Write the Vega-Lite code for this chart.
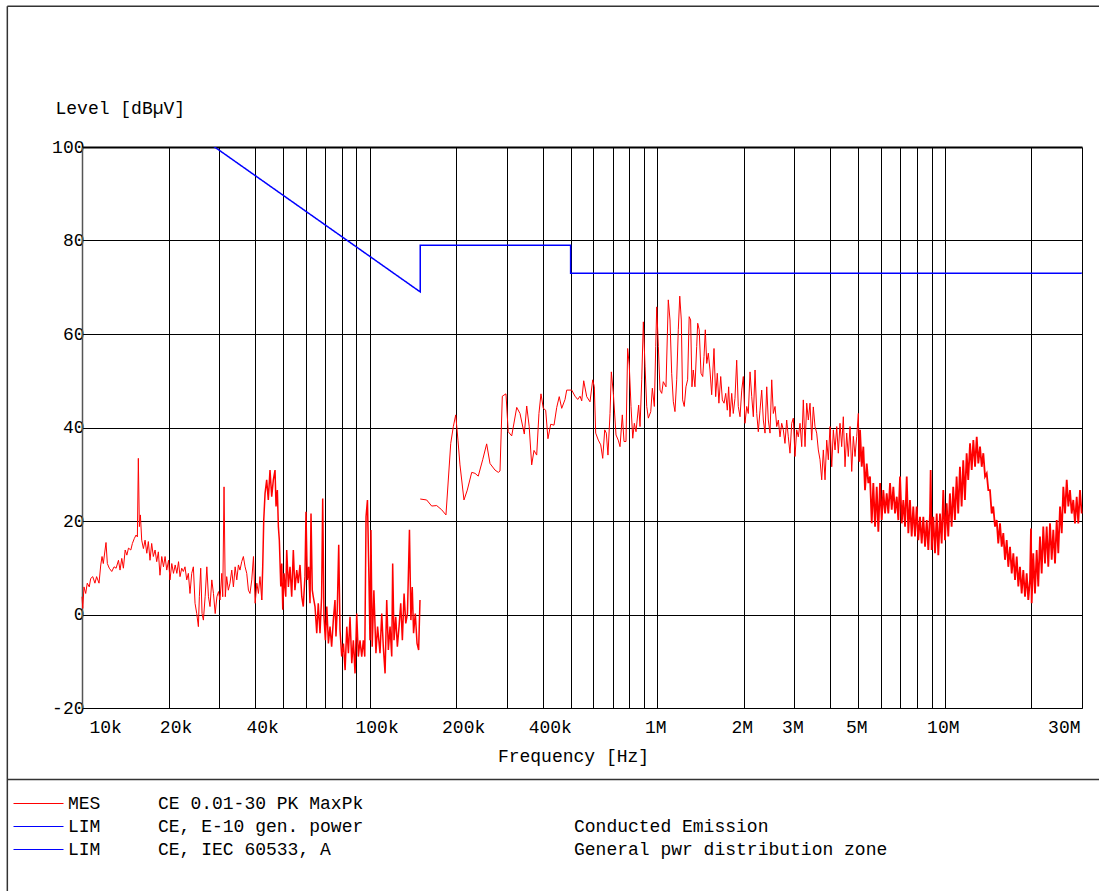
{
"$schema": "https://vega.github.io/schema/vega-lite/v6.json",
"width": 1000, "height": 561,
"autosize": "none",
"padding": {"left": 82, "top": 147, "right": 17, "bottom": 183},
"background": "white",
"datasets": {
"frame": [
{"f":5.5,"f2":50000,"v":130.1,"v2":130.1},
{"f":5.5,"f2":5.5,"v":130.1,"v2":-70},
{"f":5.5,"f2":50000,"v":-35.3,"v2":-35.3}
],
"lim": [
{"f":10,"v":120},{"f":150,"v":69},{"f":150,"v":79},{"f":500,"v":79},{"f":500,"v":73},{"f":30000,"v":73}
],
"mes1a": [
{"f":10.0,"v":3.8},{"f":10.06,"v":1.3},{"f":10.16,"v":5.9},{"f":10.30,"v":4.5},{"f":10.43,"v":6.7},{"f":10.60,"v":5.9},{"f":10.72,"v":7.7},{"f":10.90,"v":8.1},{"f":11.09,"v":6.7},{"f":11.24,"v":8.1},{"f":11.46,"v":6.7},{"f":11.62,"v":10.6},{"f":11.74,"v":12.4},{"f":11.86,"v":10.9},{"f":12.12,"v":15.4},{"f":12.25,"v":10.9},{"f":12.44,"v":9.9},{"f":12.69,"v":9.2},{"f":12.93,"v":10.2},{"f":13.14,"v":9.9},{"f":13.39,"v":11.6},{"f":13.56,"v":9.5},{"f":13.75,"v":12.0},{"f":13.93,"v":9.9},{"f":14.13,"v":13.8},{"f":14.32,"v":12.7},{"f":14.51,"v":14.2},{"f":14.78,"v":13.8},{"f":14.97,"v":15.2},{"f":15.21,"v":16.3},{"f":15.42,"v":17.0},{"f":15.58,"v":16.6},{"f":15.70,"v":33.4},{"f":15.83,"v":18.8},{"f":15.96,"v":21.3},{"f":16.13,"v":15.9},{"f":16.35,"v":14.1},{"f":16.57,"v":15.9},{"f":16.80,"v":13.1},{"f":17.01,"v":15.6},{"f":17.24,"v":11.6},{"f":17.47,"v":15.2},{"f":17.70,"v":12.4},{"f":17.95,"v":13.8},{"f":18.19,"v":11.3},{"f":18.43,"v":13.4},{"f":18.67,"v":8.4},{"f":18.94,"v":12.4},{"f":19.20,"v":10.2},{"f":19.45,"v":12.4},{"f":19.71,"v":9.5},{"f":20.0,"v":11.6},{"f":20.23,"v":7.4},{"f":20.52,"v":10.9},{"f":20.80,"v":8.8},{"f":21.09,"v":10.6},{"f":21.37,"v":8.8},{"f":21.66,"v":11.3},{"f":21.92,"v":8.1},{"f":22.22,"v":9.9},{"f":22.51,"v":9.2},{"f":22.81,"v":10.2},{"f":23.13,"v":7.4},{"f":23.43,"v":8.8},{"f":23.74,"v":4.5},{"f":24.07,"v":8.8},{"f":24.39,"v":10.2},{"f":24.72,"v":2.4},{"f":25.06,"v":0.2},{"f":25.39,"v":-2.6},{"f":25.59,"v":3.8},{"f":25.87,"v":9.9},{"f":26.15,"v":0.2},{"f":26.43,"v":-1.2},{"f":26.80,"v":3.8},{"f":27.17,"v":10.2},{"f":27.52,"v":3.8},{"f":27.87,"v":1.7},{"f":28.27,"v":7.4},{"f":28.65,"v":4.5},{"f":29.05,"v":0.2},{"f":29.45,"v":3.8},{"f":29.84,"v":4.9},{"f":30.19,"v":3.1},{"f":30.62,"v":8.8},{"f":30.86,"v":3.8},{"f":31.18,"v":27.3},{"f":31.50,"v":3.8},{"f":31.85,"v":8.1},{"f":32.27,"v":5.2},{"f":32.70,"v":6.7},{"f":33.17,"v":9.5},{"f":33.61,"v":5.9},{"f":34.08,"v":10.2},{"f":34.53,"v":7.4},{"f":34.99,"v":10.6},{"f":35.43,"v":9.5},{"f":35.92,"v":11.3},{"f":36.40,"v":12.4},{"f":36.90,"v":10.2},{"f":37.40,"v":8.8},{"f":37.90,"v":5.2},{"f":38.38,"v":4.5},{"f":38.93,"v":7.4},{"f":39.47,"v":12.4},{"f":40.0,"v":2.4},{"f":40.55,"v":6.7},{"f":41.06,"v":4.5},{"f":41.58,"v":8.1},{"f":42.17,"v":3.1}
],
"mes1b": [
{"f":42.17,"v":3.1},{"f":42.50,"v":10.2},{"f":42.85,"v":20.2},{"f":43.30,"v":25.9},{"f":43.87,"v":28.8},{"f":44.44,"v":24.5},{"f":45.05,"v":30.9},{"f":45.67,"v":25.2},{"f":46.27,"v":28.8},{"f":46.90,"v":30.9},{"f":47.28,"v":23.1},{"f":47.78,"v":26.6},{"f":48.17,"v":18.8},{"f":48.55,"v":15.9},{"f":49.11,"v":6.0},{"f":49.50,"v":10.9},{"f":49.90,"v":1.0},{"f":50.42,"v":8.8},{"f":51.1,"v":3.8},{"f":51.5,"v":13.8},{"f":52.2,"v":5.9},{"f":52.88,"v":10.2},{"f":53.6,"v":3.8},{"f":54.3,"v":13.8},{"f":55.0,"v":5.2},{"f":55.8,"v":9.5},{"f":56.5,"v":6.7},{"f":57.28,"v":10.6},{"f":58.1,"v":3.8},{"f":58.8,"v":1.7},{"f":59.6,"v":8.1},{"f":60.1,"v":22.0},{"f":60.7,"v":7.4},{"f":61.4,"v":10.2},{"f":62.06,"v":2.4},{"f":62.56,"v":21.6},{"f":63.2,"v":5.2},{"f":63.7,"v":3.8},{"f":64.6,"v":1.7},{"f":65.5,"v":-4.0},{"f":66.3,"v":2.4},{"f":67.23,"v":-4.0},{"f":68.1,"v":3.8},{"f":68.7,"v":24.8},{"f":69.4,"v":-0.5},{"f":70.2,"v":-5.5},{"f":71.0,"v":1.7},{"f":71.9,"v":-6.2},{"f":72.84,"v":-2.6},{"f":73.8,"v":-6.9},{"f":74.8,"v":-1.2},{"f":75.8,"v":3.1},{"f":76.4,"v":-4.7},{"f":77.2,"v":1.0},{"f":78.1,"v":14.9},{"f":78.91,"v":-3.3},{"f":80.0,"v":-9.0},{"f":81.1,"v":-6.2},{"f":82.2,"v":-11.9},{"f":83.3,"v":-2.6},{"f":84.4,"v":-8.3},{"f":85.49,"v":-0.5},{"f":86.7,"v":-10.4},{"f":87.8,"v":-5.5},{"f":89.0,"v":-12.6},{"f":90.2,"v":0.2},{"f":91.4,"v":-9.0},{"f":92.61,"v":-5.5},{"f":93.9,"v":-9.0},{"f":95.1,"v":-5.5},{"f":96.2,"v":-9.0},{"f":97.2,"v":20.9},{"f":98.3,"v":24.5},{"f":99.4,"v":8.8},{"f":100.3,"v":-5.5},{"f":101.1,"v":18.1},{"f":102.1,"v":-6.9},{"f":103.5,"v":5.2},{"f":105.2,"v":-8.3},{"f":106.6,"v":-2.6},{"f":108.7,"v":-8.3},{"f":110.2,"v":0.2},{"f":111.6,"v":-6.9},{"f":113.2,"v":-12.6},{"f":114.7,"v":3.1},{"f":116.2,"v":-7.6},{"f":117.8,"v":-2.6},{"f":119.4,"v":-9.0},{"f":120.3,"v":10.9},{"f":121.6,"v":-5.5},{"f":123.3,"v":-0.5},{"f":124.9,"v":-6.9},{"f":126.6,"v":-2.6},{"f":128.3,"v":2.4},{"f":130.0,"v":-5.5},{"f":131.8,"v":4.5},{"f":133.6,"v":-1.9},{"f":135.4,"v":0.2},{"f":137.6,"v":18.1},{"f":139.2,"v":-1.2},{"f":140.7,"v":5.9},{"f":142.2,"v":-4.0},{"f":144.2,"v":0.2},{"f":146.2,"v":-6.2},{"f":148.1,"v":-7.6},{"f":149.7,"v":3.1}
],
"mes2": [
{"f":150.0,"v":24.7},{"f":157.9,"v":24.5},{"f":164.4,"v":23.2},{"f":171.1,"v":23.3},{"f":178.1,"v":22.4},{"f":184.3,"v":21.3},{"f":191.5,"v":36.6},{"f":195.5,"v":40.2},{"f":199.3,"v":42.7},{"f":202.9,"v":37.3},{"f":206.2,"v":32.0},{"f":212.9,"v":24.5},{"f":218.6,"v":26.6},{"f":226.5,"v":30.4},{"f":232.5,"v":30.2},{"f":238.7,"v":29.6},{"f":247.3,"v":33.1},{"f":255.3,"v":36.5},{"f":262.2,"v":32.3},{"f":272.9,"v":30.9},{"f":280.2,"v":30.4},{"f":284.1,"v":30.7},{"f":289.4,"v":46.7},{"f":298.0,"v":47.2},{"f":303.4,"v":39.1},{"f":312.0,"v":38.2},{"f":324.8,"v":44.3},{"f":333.4,"v":43.0},{"f":345.1,"v":38.6},{"f":351.8,"v":44.6},{"f":358.9,"v":40.2},{"f":366.1,"v":32.0},{"f":373.0,"v":35.1},{"f":381.1,"v":34.1},{"f":388.0,"v":43.0},{"f":394.4,"v":47.2},{"f":401.8,"v":44.1},{"f":409.5,"v":43.7},{"f":417.0,"v":37.6},{"f":426.4,"v":40.7},{"f":437.8,"v":40.5},{"f":447.4,"v":44.3},{"f":456.5,"v":46.6},{"f":465.6,"v":44.1},{"f":478.1,"v":46.0},{"f":484.6,"v":48.0},{"f":504.4,"v":48.0},{"f":518.0,"v":46.7},{"f":529.2,"v":46.0},{"f":539.1,"v":46.7},{"f":546.5,"v":45.7},{"f":555.3,"v":50.0},{"f":568.8,"v":46.6},{"f":584.0,"v":45.5},{"f":596.8,"v":50.2},{"f":604.4,"v":48.7},{"f":611.2,"v":38.8},{"f":624.1,"v":37.3},{"f":636.3,"v":36.3},{"f":646.6,"v":33.4},{"f":657.0,"v":39.5},{"f":665.5,"v":38.8},{"f":674.3,"v":34.1},{"f":685.5,"v":43.0},{"f":692.7,"v":51.9},{"f":703.9,"v":47.3},{"f":719.1,"v":38.4},{"f":732.1,"v":37.3},{"f":742.6,"v":35.9},{"f":756.4,"v":42.7},{"f":766.8,"v":37.0},{"f":779.0,"v":37.0},{"f":789.4,"v":56.9},{"f":799.5,"v":53.4},{"f":811.0,"v":44.5},{"f":822.2,"v":37.7},{"f":832.8,"v":40.9},{"f":844.0,"v":39.1},{"f":862.2,"v":44.8},{"f":871.7,"v":40.2},{"f":883.6,"v":50.2},{"f":895.1,"v":62.6},{"f":907.4,"v":53.0},{"f":919.7,"v":44.5},{"f":931.6,"v":42.0},{"f":949.8,"v":43.4},{"f":962.0,"v":48.4},{"f":977.5,"v":44.5},{"f":988.4,"v":57.3},{"f":996.4,"v":65.8},{"f":1009.3,"v":57.3},{"f":1023,"v":48.0},{"f":1037,"v":47.3},{"f":1050,"v":49.8},{"f":1073,"v":48.7},{"f":1093,"v":67.3},
{"f":1108,"v":63.0},{"f":1123,"v":51.6},{"f":1138,"v":45.5},{"f":1153,"v":43.4},{"f":1169,"v":50.2},{"f":1184,"v":60.9},{"f":1198,"v":68.1},{"f":1213,"v":63.0},{"f":1226,"v":45.9},{"f":1242,"v":44.5},{"f":1259,"v":48.7},{"f":1276,"v":50.2},{"f":1292,"v":63.7},{"f":1307,"v":63.0},{"f":1321,"v":48.7},{"f":1335,"v":52.3},{"f":1353,"v":48.7},{"f":1372,"v":57.3},{"f":1383,"v":62.3},{"f":1400,"v":60.9},{"f":1420,"v":51.6},{"f":1440,"v":50.9},{"f":1455,"v":55.2},{"f":1470,"v":60.9},{"f":1487,"v":53.7},{"f":1506,"v":55.9},{"f":1526,"v":52.3},{"f":1547,"v":47.0},{"f":1576,"v":56.9},{"f":1597,"v":46.6},{"f":1618,"v":51.6},{"f":1639,"v":45.2},{"f":1663,"v":50.9},{"f":1685,"v":45.9},{"f":1708,"v":45.2},{"f":1731,"v":47.3},{"f":1753,"v":43.7},{"f":1772,"v":48.7},{"f":1791,"v":42.3},{"f":1816,"v":47.3},{"f":1839,"v":43.0},{"f":1864,"v":46.2},{"f":1890,"v":54.4},{"f":1914,"v":44.5},{"f":1941,"v":42.3},{"f":1968,"v":48.0},{"f":1993,"v":50.9},{"f":2020,"v":40.9},{"f":2048,"v":44.5},{"f":2074,"v":43.0},{"f":2103,"v":51.9},{"f":2132,"v":46.6},{"f":2159,"v":42.3},{"f":2189,"v":52.3},{"f":2219,"v":43.0},{"f":2247,"v":39.1},{"f":2278,"v":43.7},{"f":2309,"v":48.0},{"f":2339,"v":41.6},{"f":2371,"v":38.8},{"f":2404,"v":48.7},{"f":2434,"v":41.6},{"f":2468,"v":38.8},{"f":2502,"v":50.2},{"f":2534,"v":43.0},{"f":2569,"v":44.5},{"f":2604,"v":40.2},{"f":2638,"v":41.6},{"f":2673,"v":38.0},{"f":2710,"v":40.9},{"f":2745,"v":39.5},{"f":2782,"v":36.6},{"f":2820,"v":41.6},{"f":2857,"v":38.0},{"f":2896,"v":34.5},{"f":2936,"v":40.9},{"f":2974,"v":42.0},{"f":3014,"v":33.8},{"f":3056,"v":39.5},{"f":3095,"v":38.0},{"f":3138,"v":40.9},{"f":3181,"v":35.9},{"f":3222,"v":45.9},{"f":3266,"v":35.9},{"f":3311,"v":45.2},{"f":3354,"v":41.6},{"f":3399,"v":45.2},{"f":3446,"v":37.3},{"f":3490,"v":44.4},{"f":3538,"v":40.2},{"f":3586,"v":38.8},{"f":3633,"v":35.2},{"f":3683,"v":33.1},{"f":3733,"v":28.8},{"f":3782,"v":35.2},{"f":3834,"v":28.8},{"f":3886,"v":37.3},{"f":3936,"v":33.1},{"f":3990,"v":40.2},{"f":4045,"v":31.6},{"f":4097,"v":39.5},{"f":4153,"v":35.2},{"f":4210,"v":40.2},{"f":4264,"v":34.5},{"f":4322,"v":40.9},{"f":4381,"v":35.9},{"f":4438,"v":42.3},{"f":4499,"v":31.6},{"f":4560,"v":38.8},{"f":4619,"v":33.8},{"f":4683,"v":40.2},{"f":4747,"v":30.6},{"f":4809,"v":38.1},{"f":4875,"v":33.8},{"f":4941,"v":38.1},{"f":5005,"v":43.0},{"f":5042,"v":32.7}
],
"mes3": [
{"f":5042,"v":32.7},{"f":5073,"v":39.5},{"f":5143,"v":31.6},{"f":5209,"v":35.9},{"f":5280,"v":26.6},{"f":5353,"v":32.3},{"f":5422,"v":28.1},{"f":5496,"v":29.5},{"f":5571,"v":19.5},{"f":5643,"v":28.1},{"f":5721,"v":18.8},{"f":5799,"v":27.3},{"f":5874,"v":17.7},{"f":5954,"v":28.1},{"f":6036,"v":20.2},{"f":6114,"v":26.6},{"f":6198,"v":21.6},{"f":6282,"v":25.9},{"f":6363,"v":21.6},{"f":6451,"v":28.1},{"f":6539,"v":22.4},{"f":6624,"v":27.3},{"f":6715,"v":21.6},{"f":6807,"v":25.2},{"f":6894,"v":20.2},{"f":6989,"v":29.5},{"f":7085,"v":19.5},{"f":7176,"v":24.5},{"f":7275,"v":18.8},{"f":7374,"v":29.5},{"f":7469,"v":17.4},{"f":7568,"v":24.5},{"f":7672,"v":16.7},{"f":7771,"v":23.1},{"f":7878,"v":16.7},{"f":7985,"v":23.1},{"f":8088,"v":15.9},{"f":8201,"v":20.9},{"f":8313,"v":15.2},{"f":8421,"v":20.9},{"f":8537,"v":14.5},{"f":8653,"v":20.2},{"f":8765,"v":13.8},{"f":8884,"v":21.6},{"f":8932,"v":30.9},{"f":9006,"v":13.8},{"f":9122,"v":20.9},{"f":9247,"v":13.1},{"f":9374,"v":21.6},{"f":9494,"v":12.7},{"f":9623,"v":21.6},{"f":9755,"v":15.2},{"f":9881,"v":26.6},{"f":10017,"v":15.9},{"f":10153,"v":23.8},{"f":10284,"v":16.7},{"f":10420,"v":25.9},{"f":10563,"v":18.8},{"f":10699,"v":27.3},{"f":10846,"v":20.2},{"f":10994,"v":29.5},{"f":11136,"v":21.6},{"f":11290,"v":31.6},{"f":11445,"v":23.1},{"f":11592,"v":33.0},{"f":11752,"v":24.5},{"f":11912,"v":34.5},{"f":12066,"v":28.8},{"f":12240,"v":36.6},{"f":12408,"v":30.9},{"f":12568,"v":37.3},{"f":12741,"v":31.6},{"f":12914,"v":38.0},{"f":13081,"v":32.3},{"f":13260,"v":35.9},{"f":13442,"v":31.6},{"f":13615,"v":34.5},{"f":13803,"v":29.5},{"f":13990,"v":30.2},{"f":14171,"v":26.6},{"f":14360,"v":26.6},{"f":14557,"v":21.6},{"f":14745,"v":23.1},{"f":14947,"v":18.8},{"f":15151,"v":20.2},{"f":15347,"v":15.2},{"f":15560,"v":19.5},{"f":15773,"v":14.5},{"f":15977,"v":17.4},{"f":16196,"v":11.7},{"f":16417,"v":15.9},{"f":16629,"v":10.2},{"f":16860,"v":14.5},{"f":17091,"v":8.8},{"f":17312,"v":13.1},{"f":17550,"v":7.4},{"f":17789,"v":12.4},{"f":18018,"v":6.0},{"f":18260,"v":10.2},{"f":18510,"v":4.5},{"f":18750,"v":9.5},{"f":19007,"v":3.8},{"f":19266,"v":8.8},{"f":19515,"v":3.1},{"f":19780,"v":7.4},{"f":19940,"v":18.4},{"f":20051,"v":2.4},{"f":20310,"v":13.1},{"f":20589,"v":4.5},{"f":20870,"v":13.8},{"f":21139,"v":6.0},{"f":21430,"v":16.7},{"f":21724,"v":8.8},{"f":22004,"v":18.8},{"f":22307,"v":10.9},{"f":22611,"v":18.8},{"f":22902,"v":10.2},{"f":23220,"v":19.5},{"f":23538,"v":11.7},{"f":23842,"v":18.1},{"f":24170,"v":10.9},{"f":24500,"v":20.2},{"f":24815,"v":13.1},{"f":25160,"v":23.1},{"f":25505,"v":17.4},{"f":25834,"v":27.3},{"f":26189,"v":21.6},{"f":26548,"v":28.8},{"f":26889,"v":23.1},{"f":27250,"v":26.6},{"f":27623,"v":21.6},{"f":27981,"v":24.5},{"f":28365,"v":19.5},{"f":28753,"v":25.2},{"f":29122,"v":19.5},{"f":29520,"v":26.6},{"f":29920,"v":21.6}
]
},
"encoding": {
"x": {"field": "f", "type": "quantitative",
  "scale": {"type": "log", "domain": [10, 30000], "nice": false},
  "axis": {
    "values": [10,20,30,40,50,60,70,80,90,100,200,300,400,500,600,700,800,900,1000,2000,3000,4000,5000,6000,7000,8000,9000,10000,20000,30000],
    "labelExpr": "indexof([10,20,40,100,200,400,1000,2000,3000,5000,10000,30000], datum.value) >= 0 ? (datum.value >= 1000 ? (datum.value / 1000) + 'M' : datum.value + 'k') : ''",
    "ticks": false, "grid": true, "gridColor": "#000", "gridWidth": 1, "gridOpacity": 1,
    "domainColor": "#000", "domainWidth": 1,
    "labelFont": "Liberation Mono", "labelFontSize": 18, "labelColor": "#000",
    "labelPadding": 10, "labelFlush": true, "labelOverlap": false, "labelBound": false,
    "labelOffset": {"condition": {"test": "datum.value < 1000", "value": 7}, "value": -2},
    "title": "Frequency [Hz]", "titleFont": "Liberation Mono", "titleFontSize": 18, "titleFontWeight": "normal", "titleColor": "#000",
    "titleX": 491, "titleY": 48, "titleAlign": "center", "titleBaseline": "middle", "titleAnchor": null
  }},
"y": {"field": "v", "type": "quantitative",
  "scale": {"domain": [-20, 100], "nice": false, "zero": false},
  "axis": {
    "values": [-20,0,20,40,60,80,100],
    "labelExpr": "datum.value + ''",
    "ticks": false, "grid": true, "gridColor": "#000", "gridOpacity": 1,
    "gridWidth": {"condition": {"test": "datum.value === 100", "value": 2}, "value": 1},
    "domainColor": "#555", "domainWidth": 1.5,
    "labelFont": "Liberation Mono", "labelFontSize": 18, "labelColor": "#000", "labelPadding": -2,
    "title": "Level [dBµV]", "titleFont": "Liberation Mono", "titleFontSize": 18, "titleFontWeight": "normal", "titleColor": "#000",
    "titleAngle": 0, "titleX": -27, "titleY": -39, "titleAlign": "left", "titleBaseline": "middle"
  }}
},
"layer": [
{"data": {"name": "mes1a"},
 "mark": {"type": "line", "strokeWidth": 1},
 "encoding": {"order": {"value": null},
   "color": {"datum": "MES  CE 0.01-30 PK MaxPk",
     "scale": {"domain": ["MES  CE 0.01-30 PK MaxPk", "LIM  CE, E-10 gen. power", "LIM  CE, IEC 60533, A"], "range": ["#ff0000", "#0000ff", "#0101ff"]},
     "legend": {"orient": "none", "legendX": -54, "legendY": 646, "title": null, "padding": 0,
       "symbolType": "M-2.5,0H2.5", "symbolSize": 400, "symbolStrokeWidth": 1,
       "labelOffset": 19, "rowPadding": 3, "direction": "vertical",
       "labelFont": "Liberation Mono", "labelFontSize": 18, "labelColor": "#000", "labelLimit": 1000,
       "labelExpr": "slice(datum.label, 0, 3)"}}}},
{"data": {"name": "mes1b"},
 "mark": {"type": "line", "strokeWidth": 1.5},
 "encoding": {"order": {"value": null},
   "color": {"datum": "MES  CE 0.01-30 PK MaxPk",
     "scale": {"domain": ["MES  CE 0.01-30 PK MaxPk", "LIM  CE, E-10 gen. power", "LIM  CE, IEC 60533, A"], "range": ["#ff0000", "#0000ff", "#0101ff"]}}}},
{"data": {"name": "mes2"},
 "mark": {"type": "line", "strokeWidth": 1},
 "encoding": {"order": {"value": null},
   "color": {"datum": "MES  CE 0.01-30 PK MaxPk",
     "scale": {"domain": ["MES  CE 0.01-30 PK MaxPk", "LIM  CE, E-10 gen. power", "LIM  CE, IEC 60533, A"], "range": ["#ff0000", "#0000ff", "#0101ff"]}}}},
{"data": {"name": "mes3"},
 "mark": {"type": "line", "strokeWidth": 1.8},
 "encoding": {"order": {"value": null},
   "color": {"datum": "MES  CE 0.01-30 PK MaxPk",
     "scale": {"domain": ["MES  CE 0.01-30 PK MaxPk", "LIM  CE, E-10 gen. power", "LIM  CE, IEC 60533, A"], "range": ["#ff0000", "#0000ff", "#0101ff"]}}}},
{"data": {"name": "lim"},
 "mark": {"type": "line", "clip": true, "strokeWidth": 1.5, "color": "#0000ff"},
 "encoding": {
   "order": {"value": null},
   "strokeDash": {"datum": "CE, IEC 60533, A",
     "scale": {"domain": ["CE 0.01-30 PK MaxPk", "CE, E-10 gen. power", "CE, IEC 60533, A"], "range": [[1, 0], [1, 0], [1, 0]]},
     "legend": {"orient": "none", "legendX": 34, "legendY": 646, "title": null, "padding": 0,
       "symbolType": "M-2.5,0H2.5", "symbolSize": 400, "symbolStrokeWidth": 1, "symbolStrokeColor": "transparent",
       "labelOffset": 21, "rowPadding": 3, "direction": "vertical",
       "labelFont": "Liberation Mono", "labelFontSize": 18, "labelColor": "#000", "labelLimit": 1000,
       "encode": {"symbols": {"update": {"stroke": {"value": "transparent"}, "opacity": {"value": 0}}}}}},
   "opacity": {"datum": "iec",
     "scale": {"domain": ["mes", "e10", "iec"], "range": [1, 1, 1]},
     "legend": {"orient": "none", "legendX": 450, "legendY": 646, "title": null, "padding": 0,
       "symbolType": "M-2.5,0H2.5", "symbolSize": 400, "symbolStrokeWidth": 1, "symbolStrokeColor": "transparent",
       "labelOffset": 21, "rowPadding": 3, "direction": "vertical",
       "labelFont": "Liberation Mono", "labelFontSize": 18, "labelColor": "#000", "labelLimit": 1000,
       "labelExpr": "datum.label === 'e10' ? 'Conducted Emission' : (datum.label === 'iec' ? 'General pwr distribution zone' : '')",
       "encode": {"symbols": {"update": {"stroke": {"value": "transparent"}, "opacity": {"value": 0}}}}}}
 }},
{"data": {"name": "frame"},
 "mark": {"type": "rule", "stroke": "#333333", "strokeWidth": 1.5},
 "encoding": {"x2": {"field": "f2"}, "y2": {"field": "v2"}}}
],
"config": {"view": {"stroke": null}, "font": "Liberation Mono"}
}
